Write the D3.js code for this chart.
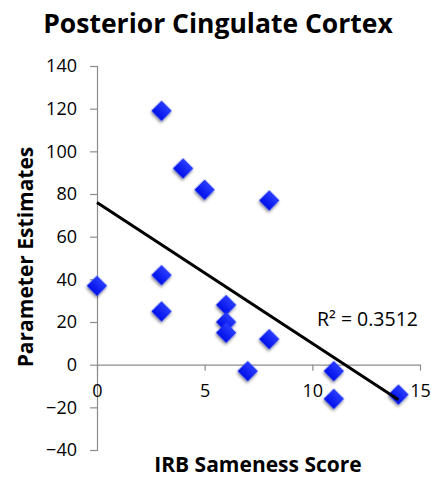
<!DOCTYPE html>
<html>
  <head>
    <meta charset="utf-8" />
    <title>Posterior Cingulate Cortex</title>
    <script src="https://d3js.org/d3.v7.min.js"></script>
    <style>
      body {
        margin: 0;
        background: #fff;
      }
      text {
        font-family: "Open Sans", sans-serif;
      }
    </style>
  </head>
  <body>
    <svg id="chart"></svg>

    <script>

      // scores (x) and parameter estimates (y)
      var scores = [3, 4, 5, 8, 0, 3, 3, 6, 6, 6, 8, 7, 11, 11, 14];
      var estimates = [119, 92, 82, 77, 37, 42, 25, 28, 20, 15, 12, -3, -3, -16, -14];

      // linear trend line end points
      var trendX = [0, 14];
      var trendY = [76, -16.4];
      var rSquared = "R² = 0.3512";

      var xTicks = [0, 5, 10, 15];
      var yTicks = [-40, -20, 0, 20, 40, 60, 80, 100, 120, 140];

      var width = 431;
      var height = 477;
      var margin = { top: 66, right: 11, bottom: 27, left: 97 };

      var svg = d3.select("#chart")
        .attr("width", width)
        .attr("height", height);

      var x = d3.scaleLinear()
        .domain([0, 15])
        .range([margin.left, width - margin.right]);

      var y = d3.scaleLinear()
        .domain([-40, 140])
        .range([height - margin.bottom, margin.top]);

      var defs = svg.append("defs");
      var shadow = defs.append("filter")
        .attr("id", "shadow")
        .attr("x", "-50%").attr("y", "-50%")
        .attr("width", "200%").attr("height", "200%");
      shadow.append("feDropShadow")
        .attr("dx", 1).attr("dy", 2)
        .attr("stdDeviation", 1.6)
        .attr("flood-color", "#000")
        .attr("flood-opacity", 0.45);

      var grad = defs.append("linearGradient")
        .attr("id", "blue")
        .attr("x1", 0).attr("y1", 0).attr("x2", 0).attr("y2", 1);
      grad.append("stop").attr("offset", "0%").attr("stop-color", "#2a3cff");
      grad.append("stop").attr("offset", "100%").attr("stop-color", "#0010e8");

      // y axis
      var yAxis = d3.axisLeft(y)
        .tickValues(yTicks)
        .tickSize(7)
        .tickPadding(13);
      var gy = svg.append("g")
        .attr("transform", "translate(" + x(0) + ",0)")
        .call(yAxis);
      gy.select(".domain").attr("stroke", "#8c8c8c").attr("stroke-width", 1.2);
      gy.selectAll(".tick line").attr("stroke", "#8c8c8c").attr("stroke-width", 1.2);
      gy.selectAll(".tick text")
        .attr("font-size", "18px")
        .attr("font-family", "'Open Sans', sans-serif")
        .attr("fill", "#000");

      // x axis crossing at 0
      var xAxis = d3.axisBottom(x)
        .tickValues(xTicks)
        .tickSize(6)
        .tickSizeOuter(0)
        .tickPadding(14);
      var gx = svg.append("g")
        .attr("transform", "translate(0," + y(0) + ")")
        .call(xAxis);
      gx.select(".domain").attr("stroke", "#8c8c8c").attr("stroke-width", 1.2);
      gx.selectAll(".tick line").attr("stroke", "#8c8c8c").attr("stroke-width", 1.2);
      gx.selectAll(".tick text")
        .attr("font-size", "18px")
        .attr("font-family", "'Open Sans', sans-serif")
        .attr("fill", "#000");

      // points
      var points = scores.map(function(s, i) {
        return { x: s, y: estimates[i] };
      });

      svg.append("g").selectAll("path")
        .data(points)
        .enter().append("path")
        .attr("d", d3.symbol().type(d3.symbolSquare).size(210))
        .attr("transform", function(d) {
          return "translate(" + x(d.x) + "," + y(d.y) + ") rotate(45)";
        })
        .attr("fill", "url(#blue)")
        .attr("filter", "url(#shadow)");

      // trend line
      svg.append("line")
        .attr("x1", x(trendX[0]))
        .attr("y1", y(trendY[0]))
        .attr("x2", x(trendX[1]))
        .attr("y2", y(trendY[1]))
        .attr("stroke", "#000")
        .attr("stroke-width", 3);

      svg.append("text")
        .attr("x", 317)
        .attr("y", 326)
        .attr("font-size", "19.5px")
        .text(rSquared);

      // titles
      svg.append("text")
        .attr("x", 218)
        .attr("y", 33)
        .attr("text-anchor", "middle")
        .attr("font-size", "26.5px")
        .attr("font-weight", "bold")
        .text("Posterior Cingulate Cortex");

      svg.append("text")
        .attr("x", 258)
        .attr("y", 472)
        .attr("text-anchor", "middle")
        .attr("font-size", "21px")
        .attr("font-weight", "bold")
        .text("IRB Sameness Score");

      svg.append("text")
        .attr("transform", "translate(33,257) rotate(-90)")
        .attr("text-anchor", "middle")
        .attr("font-size", "21px")
        .attr("font-weight", "bold")
        .text("Parameter Estimates");

    </script>
  </body>
</html>
